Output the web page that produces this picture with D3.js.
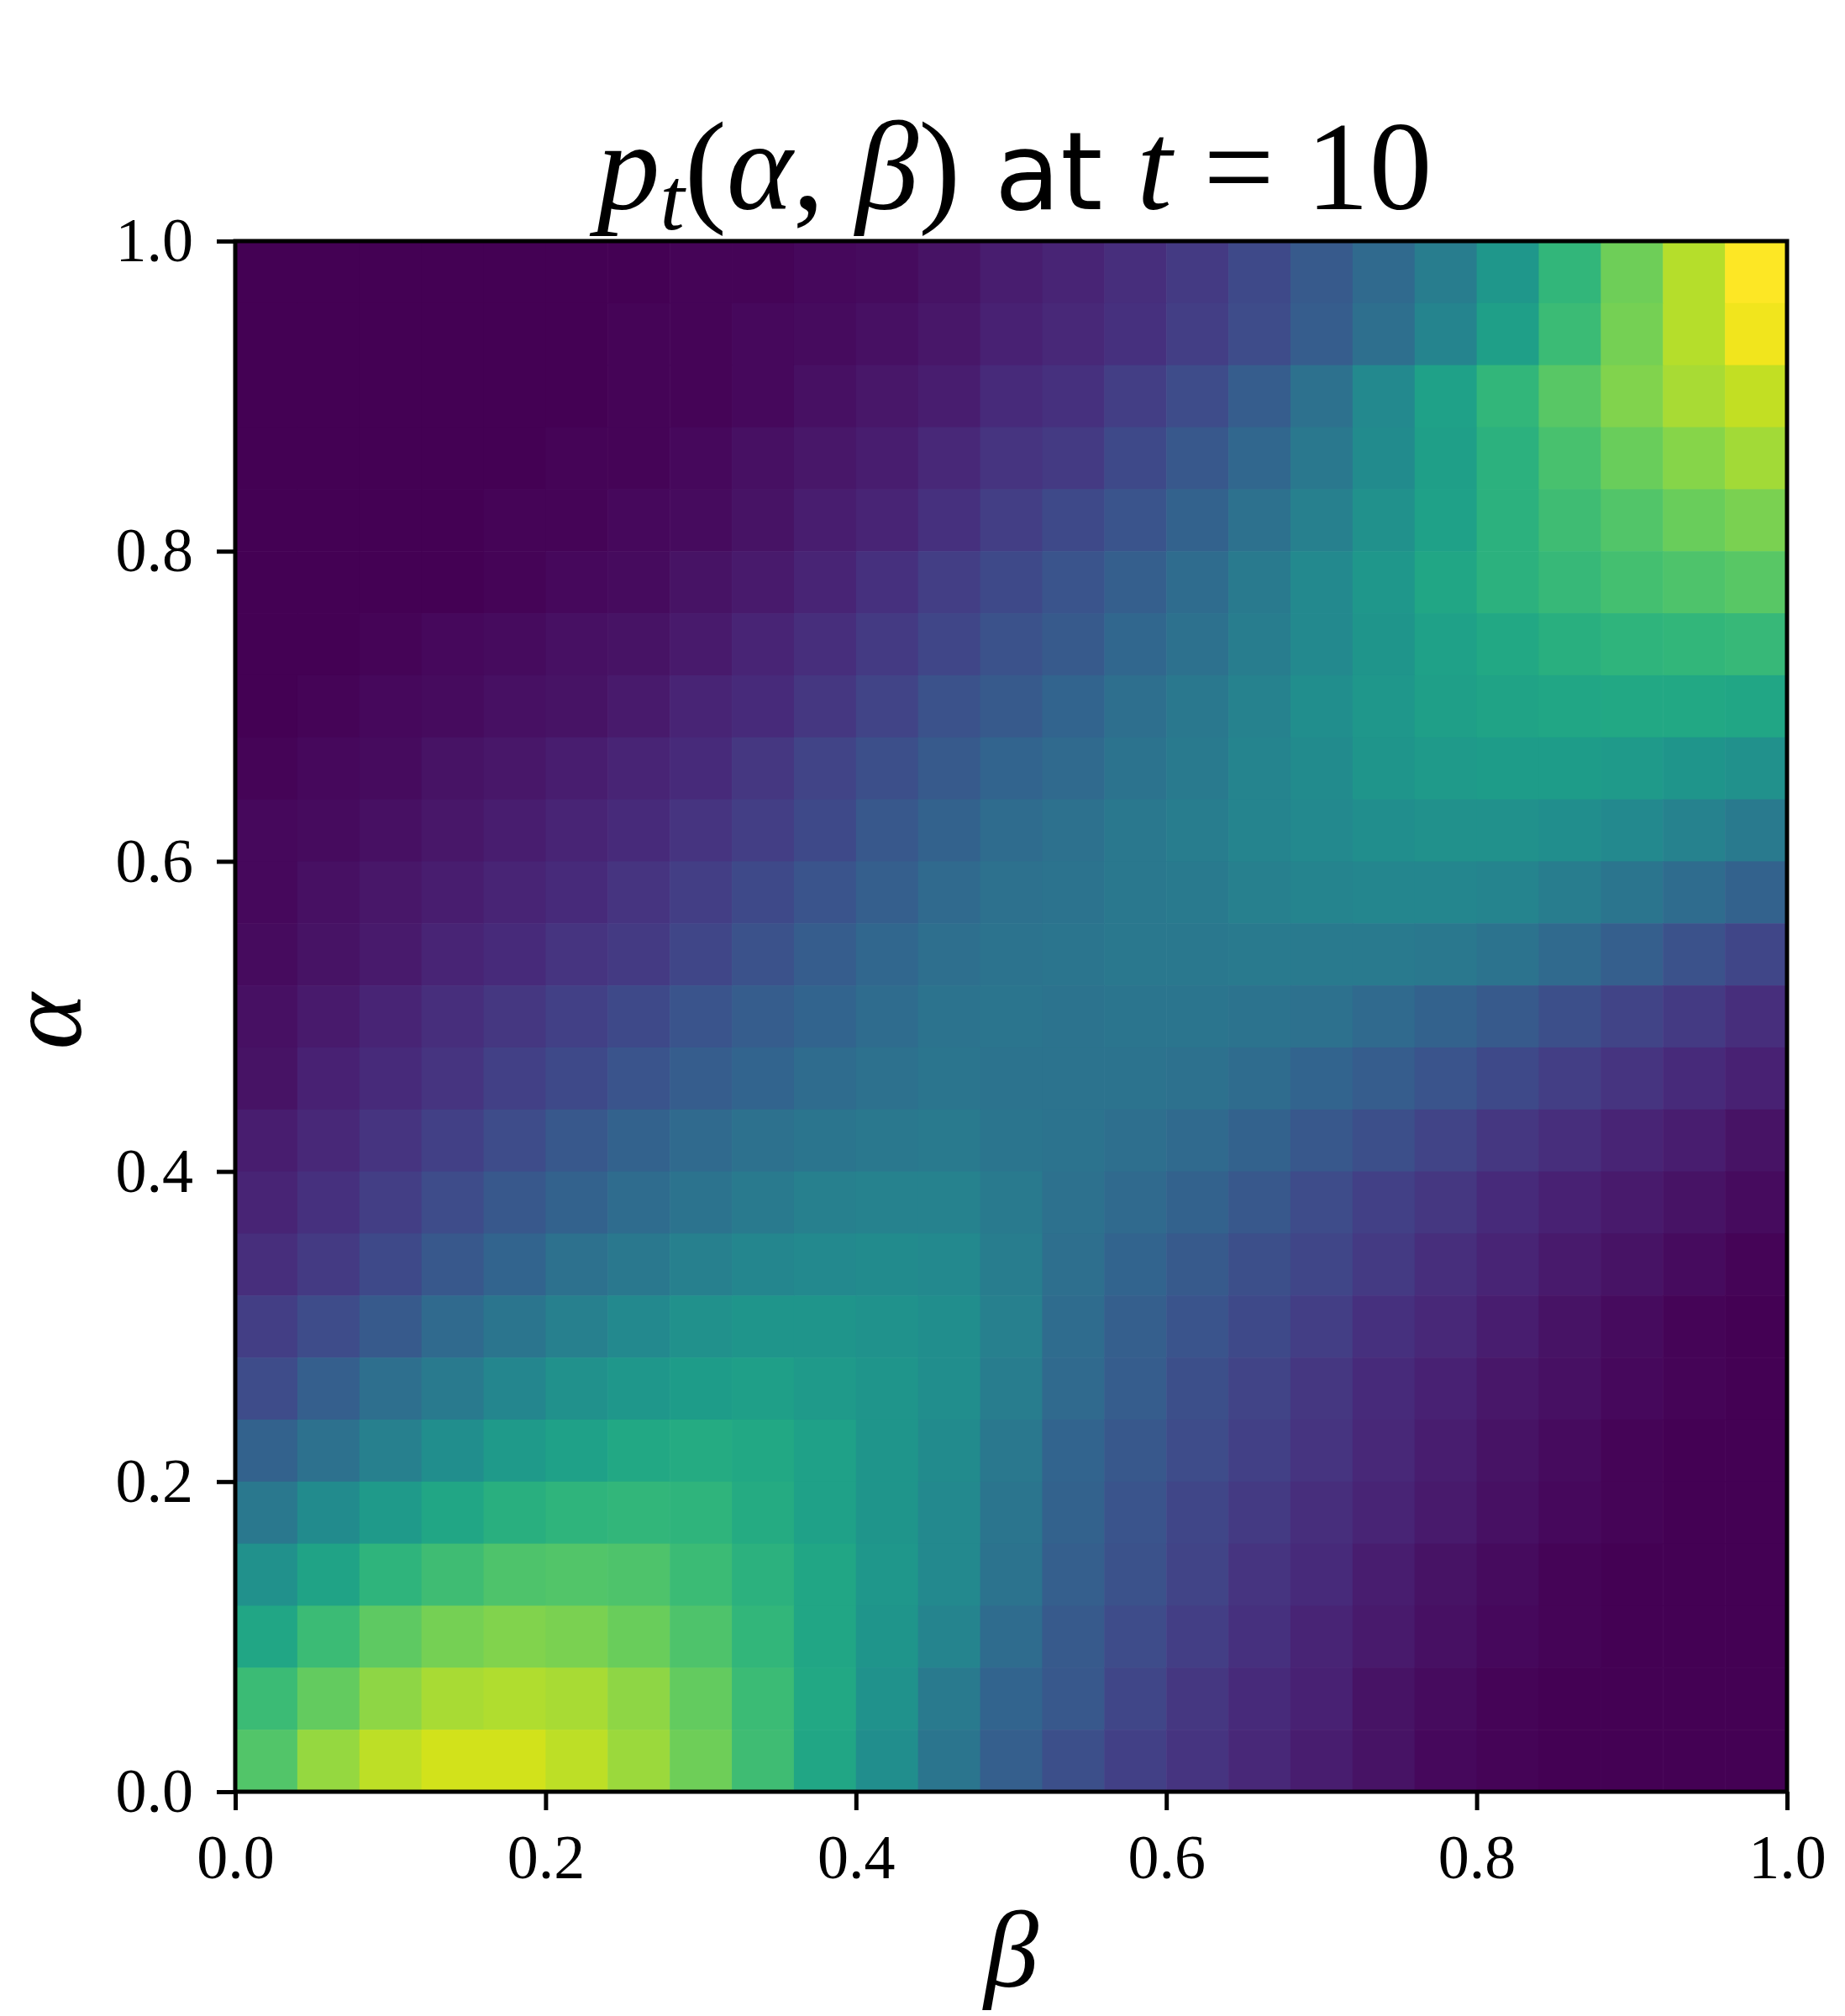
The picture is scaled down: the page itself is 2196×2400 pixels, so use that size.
<!DOCTYPE html>
<html>
<head>
<meta charset="utf-8">
<script src="https://cdnjs.cloudflare.com/ajax/libs/d3/7.8.5/d3.min.js"></script>
<style>
  body { margin: 0; background: #ffffff; }
</style>
</head>
<body>
<div id="chart"></div>
<script>
// cell centres along each axis; rows of P run from the top alpha down to the bottom one
const BETA = [0.02, 0.06, 0.10, 0.14, 0.18, 0.22, 0.26, 0.30, 0.34, 0.38, 0.42, 0.46, 0.50,
              0.54, 0.58, 0.62, 0.66, 0.70, 0.74, 0.78, 0.82, 0.86, 0.90, 0.94, 0.98];
const ALPHA = [0.98, 0.94, 0.90, 0.86, 0.82, 0.78, 0.74, 0.70, 0.66, 0.62, 0.58, 0.54, 0.50,
               0.46, 0.42, 0.38, 0.34, 0.30, 0.26, 0.22, 0.18, 0.14, 0.10, 0.06, 0.02];

// p_t(alpha, beta), normalised 0..1
const P = [
  [0.00,0.00,0.00,0.00,0.00,0.00,0.00,0.01,0.01,0.02,0.03,0.05,0.08, 0.10,0.13,0.17,0.22,0.28,0.34,0.42,0.53,0.66,0.78,0.89,1.00],
  [0.00,0.00,0.00,0.00,0.00,0.00,0.01,0.01,0.02,0.03,0.04,0.06,0.09, 0.11,0.14,0.18,0.23,0.29,0.36,0.45,0.56,0.68,0.79,0.89,0.98],
  [0.00,0.00,0.00,0.00,0.00,0.00,0.01,0.01,0.02,0.04,0.06,0.08,0.12, 0.14,0.18,0.23,0.29,0.37,0.47,0.57,0.66,0.74,0.81,0.87,0.91],
  [0.00,0.00,0.00,0.00,0.00,0.01,0.01,0.02,0.04,0.06,0.08,0.11,0.15, 0.17,0.22,0.27,0.33,0.40,0.48,0.56,0.64,0.71,0.77,0.82,0.86],
  [0.00,0.00,0.00,0.00,0.01,0.01,0.02,0.03,0.05,0.08,0.10,0.14,0.18, 0.22,0.26,0.31,0.37,0.43,0.50,0.57,0.64,0.69,0.73,0.77,0.80],
  [0.00,0.00,0.00,0.00,0.01,0.02,0.03,0.05,0.07,0.10,0.14,0.18,0.22, 0.26,0.30,0.35,0.41,0.47,0.53,0.59,0.64,0.67,0.70,0.72,0.74],
  [0.00,0.00,0.01,0.02,0.03,0.04,0.05,0.07,0.10,0.13,0.17,0.21,0.25, 0.28,0.33,0.37,0.42,0.47,0.52,0.57,0.60,0.63,0.65,0.66,0.67],
  [0.00,0.01,0.02,0.03,0.04,0.05,0.07,0.10,0.12,0.16,0.20,0.25,0.28, 0.32,0.36,0.40,0.44,0.49,0.53,0.56,0.58,0.59,0.60,0.60,0.59],
  [0.01,0.02,0.03,0.05,0.06,0.08,0.10,0.12,0.16,0.20,0.24,0.28,0.32, 0.34,0.38,0.41,0.45,0.48,0.52,0.54,0.55,0.55,0.54,0.52,0.50],
  [0.02,0.03,0.04,0.06,0.08,0.10,0.12,0.15,0.18,0.22,0.27,0.31,0.35, 0.37,0.40,0.42,0.45,0.47,0.49,0.50,0.50,0.49,0.47,0.44,0.41],
  [0.02,0.04,0.06,0.08,0.10,0.12,0.15,0.18,0.22,0.26,0.30,0.34,0.37, 0.38,0.40,0.41,0.43,0.45,0.46,0.46,0.45,0.42,0.39,0.35,0.31],
  [0.03,0.05,0.07,0.10,0.12,0.15,0.17,0.21,0.25,0.29,0.33,0.36,0.38, 0.39,0.40,0.40,0.41,0.41,0.41,0.40,0.38,0.34,0.30,0.25,0.21],
  [0.04,0.07,0.10,0.13,0.16,0.19,0.22,0.26,0.29,0.32,0.35,0.38,0.39, 0.38,0.39,0.39,0.38,0.37,0.34,0.31,0.28,0.24,0.20,0.17,0.13],
  [0.05,0.09,0.12,0.15,0.19,0.22,0.26,0.29,0.32,0.35,0.37,0.39,0.38, 0.38,0.38,0.37,0.35,0.32,0.29,0.26,0.22,0.18,0.15,0.12,0.09],
  [0.08,0.11,0.15,0.19,0.23,0.27,0.31,0.34,0.37,0.39,0.40,0.41,0.39, 0.38,0.36,0.34,0.31,0.27,0.24,0.20,0.16,0.13,0.10,0.08,0.05],
  [0.10,0.14,0.18,0.23,0.27,0.31,0.35,0.38,0.41,0.43,0.44,0.44,0.41, 0.37,0.34,0.31,0.27,0.23,0.19,0.16,0.12,0.09,0.07,0.05,0.03],
  [0.13,0.17,0.22,0.27,0.32,0.37,0.40,0.43,0.46,0.47,0.48,0.47,0.42, 0.36,0.32,0.28,0.24,0.21,0.17,0.13,0.10,0.07,0.05,0.03,0.01],
  [0.18,0.23,0.28,0.34,0.39,0.43,0.47,0.50,0.52,0.52,0.51,0.49,0.43, 0.35,0.30,0.26,0.22,0.18,0.14,0.11,0.08,0.05,0.03,0.01,0.00],
  [0.23,0.30,0.36,0.41,0.46,0.50,0.53,0.55,0.56,0.54,0.52,0.49,0.42, 0.34,0.29,0.24,0.20,0.16,0.12,0.09,0.06,0.04,0.02,0.01,0.00],
  [0.31,0.37,0.43,0.49,0.54,0.57,0.60,0.61,0.60,0.57,0.52,0.48,0.40, 0.32,0.27,0.23,0.19,0.15,0.11,0.08,0.05,0.03,0.01,0.00,0.00],
  [0.40,0.48,0.54,0.59,0.63,0.65,0.66,0.65,0.61,0.57,0.52,0.47,0.39, 0.31,0.26,0.21,0.17,0.13,0.10,0.07,0.04,0.02,0.01,0.00,0.00],
  [0.50,0.58,0.65,0.69,0.72,0.73,0.72,0.68,0.64,0.59,0.53,0.47,0.38, 0.30,0.25,0.20,0.15,0.12,0.08,0.05,0.03,0.01,0.00,0.00,0.00],
  [0.59,0.68,0.75,0.79,0.81,0.80,0.77,0.72,0.66,0.59,0.52,0.45,0.35, 0.28,0.23,0.18,0.14,0.10,0.07,0.04,0.02,0.01,0.00,0.00,0.00],
  [0.68,0.76,0.83,0.87,0.88,0.87,0.83,0.76,0.68,0.60,0.51,0.41,0.32, 0.27,0.21,0.16,0.12,0.09,0.05,0.03,0.01,0.00,0.00,0.00,0.00],
  [0.73,0.84,0.90,0.93,0.93,0.90,0.85,0.78,0.69,0.59,0.49,0.39,0.30, 0.24,0.19,0.15,0.11,0.08,0.05,0.02,0.01,0.00,0.00,0.00,0.00]
];

const TICKS = [0.0, 0.2, 0.4, 0.6, 0.8, 1.0];

const WIDTH = 2196;
const HEIGHT = 2400;
const LEFT = 280, RIGHT = 2127, TOP = 287, BOTTOM = 2133;
const CELL = BETA[1] - BETA[0];
const SERIF = "'Liberation Serif', 'DejaVu Serif', serif";

const X_SCALE = d3.scaleLinear().domain([0, 1]).range([LEFT, RIGHT]);
const Y_SCALE = d3.scaleLinear().domain([0, 1]).range([BOTTOM, TOP]);
const COLOR = d3.scaleSequential(d3.interpolateViridis).domain([0, 1]);

let cells = [];
P.forEach((row, i) => row.forEach((v, j) => cells.push({a: ALPHA[i], b: BETA[j], v: v})));

let svg = d3.select('#chart')
            .append('svg')
            .attr('width', WIDTH)
            .attr('height', HEIGHT);

svg.append('rect')
   .attr('width', WIDTH)
   .attr('height', HEIGHT)
   .attr('fill', '#ffffff');

svg.append('g')
   .selectAll('rect')
   .data(cells)
   .enter()
   .append('rect')
   .attr('x', d => X_SCALE(d.b - CELL / 2))
   .attr('y', d => Y_SCALE(d.a + CELL / 2))
   .attr('width', d => X_SCALE(d.b + CELL / 2) - X_SCALE(d.b - CELL / 2) + 0.6)
   .attr('height', d => Y_SCALE(d.a - CELL / 2) - Y_SCALE(d.a + CELL / 2) + 0.6)
   .attr('fill', d => COLOR(d.v));

// axes
const X_AXIS = d3.axisBottom(X_SCALE).tickValues(TICKS).tickFormat(d3.format('.1f'))
                 .tickSize(22).tickPadding(28);
const Y_AXIS = d3.axisLeft(Y_SCALE).tickValues(TICKS).tickFormat(d3.format('.1f'))
                 .tickSize(22).tickPadding(28);

let gx = svg.append('g')
            .attr('transform', 'translate(0,' + BOTTOM + ')')
            .call(X_AXIS);
let gy = svg.append('g')
            .attr('transform', 'translate(' + LEFT + ',0)')
            .call(Y_AXIS);

[gx, gy].forEach(g => {
  g.select('.domain').remove();
  g.selectAll('line').attr('stroke', '#000').attr('stroke-width', 5);
  g.selectAll('text')
   .attr('fill', '#000')
   .attr('font-family', SERIF)
   .attr('font-size', 74);
});

// frame
svg.append('rect')
   .attr('x', LEFT)
   .attr('y', TOP)
   .attr('width', RIGHT - LEFT)
   .attr('height', BOTTOM - TOP)
   .attr('fill', 'none')
   .attr('stroke', '#000')
   .attr('stroke-width', 5);

// axis labels
svg.append('text')
   .attr('x', (LEFT + RIGHT) / 2)
   .attr('y', 2365)
   .attr('text-anchor', 'middle')
   .attr('font-family', SERIF)
   .attr('font-style', 'italic')
   .attr('font-size', 130)
   .text('β');

svg.append('text')
   .attr('transform', 'translate(96,' + ((TOP + BOTTOM) / 2 + 6) + ') rotate(-90)')
   .attr('text-anchor', 'middle')
   .attr('font-family', SERIF)
   .attr('font-style', 'italic')
   .attr('font-size', 128)
   .text('α');

// title: p_t(α, β) at t = 10
let title = svg.append('text')
               .attr('x', (LEFT + RIGHT) / 2 + 4)
               .attr('y', 249)
               .attr('text-anchor', 'middle')
               .attr('font-family', SERIF)
               .attr('font-size', 150);
title.append('tspan').attr('font-style', 'italic').text('p');
title.append('tspan').attr('font-style', 'italic').attr('font-size', 105).attr('dy', 24).text('t');
title.append('tspan').attr('dy', -24).text('(');
title.append('tspan').attr('font-style', 'italic').text('α');
title.append('tspan').text(', ');
title.append('tspan').attr('font-style', 'italic').text('β');
title.append('tspan').text(')');
title.append('tspan').attr('font-family', "'DejaVu Sans', sans-serif").attr('font-size', 128).text(' at ');
title.append('tspan').attr('font-style', 'italic').text('t');
title.append('tspan').text(' = 10');
</script>
</body>
</html>
